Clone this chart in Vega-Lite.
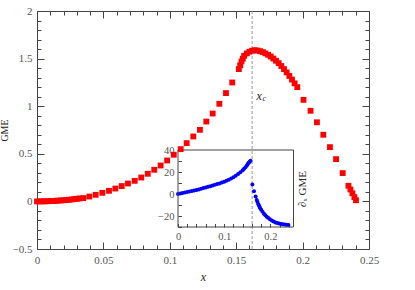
{
  "$schema": "https://vega.github.io/schema/vega-lite/v6.json",
  "width": 332,
  "height": 238,
  "autosize": "none",
  "padding": {"left": 37, "top": 11, "right": 46, "bottom": 41},
  "background": "white",
  "config": {
    "view": {"stroke": null},
    "font": "Liberation Serif",
    "text": {"font": "Liberation Serif"},
    "axis": {
      "labelFont": "Liberation Serif",
      "titleFont": "Liberation Serif",
      "domainColor": "#444",
      "tickColor": "#444",
      "labelColor": "#555",
      "titleColor": "#222",
      "titleFontWeight": "normal",
      "grid": false,
      "labelFontSize": 11,
      "titleFontSize": 11,
      "format": "~r",
      "labelFlush": false,
      "labelOverlap": false,
      "labelBound": false
    }
  },
  "datasets": {
    "gme": [
      {"x": 0, "g": 0}, {"x": 0.002, "g": 0.0001}, {"x": 0.004, "g": 0.0005}, {"x": 0.006, "g": 0.001},
      {"x": 0.008, "g": 0.002}, {"x": 0.01, "g": 0.003}, {"x": 0.012, "g": 0.004}, {"x": 0.014, "g": 0.006},
      {"x": 0.016, "g": 0.008}, {"x": 0.018, "g": 0.01}, {"x": 0.02, "g": 0.012}, {"x": 0.022, "g": 0.015},
      {"x": 0.024, "g": 0.017}, {"x": 0.026, "g": 0.02}, {"x": 0.028, "g": 0.024}, {"x": 0.03, "g": 0.027},
      {"x": 0.032, "g": 0.031},
      {"x": 0.0349, "g": 0.035}, {"x": 0.0394, "g": 0.051}, {"x": 0.0442, "g": 0.069}, {"x": 0.0492, "g": 0.09},
      {"x": 0.0542, "g": 0.111}, {"x": 0.059, "g": 0.135}, {"x": 0.0638, "g": 0.161}, {"x": 0.0685, "g": 0.188},
      {"x": 0.0736, "g": 0.216}, {"x": 0.0785, "g": 0.251}, {"x": 0.0834, "g": 0.29}, {"x": 0.0883, "g": 0.332},
      {"x": 0.0931, "g": 0.377}, {"x": 0.098, "g": 0.43}, {"x": 0.103, "g": 0.49}, {"x": 0.1082, "g": 0.549},
      {"x": 0.1127, "g": 0.612}, {"x": 0.1177, "g": 0.682}, {"x": 0.1227, "g": 0.752}, {"x": 0.1275, "g": 0.839},
      {"x": 0.1323, "g": 0.923}, {"x": 0.1373, "g": 1.025}, {"x": 0.1423, "g": 1.138}, {"x": 0.147, "g": 1.249},
      {"x": 0.152, "g": 1.39}, {"x": 0.153, "g": 1.43}, {"x": 0.154, "g": 1.47}, {"x": 0.155, "g": 1.5},
      {"x": 0.156, "g": 1.53}, {"x": 0.158, "g": 1.555}, {"x": 0.16, "g": 1.572}, {"x": 0.162, "g": 1.583},
      {"x": 0.164, "g": 1.588}, {"x": 0.166, "g": 1.585}, {"x": 0.168, "g": 1.578}, {"x": 0.17, "g": 1.568},
      {"x": 0.172, "g": 1.555}, {"x": 0.174, "g": 1.54}, {"x": 0.176, "g": 1.522}, {"x": 0.178, "g": 1.5},
      {"x": 0.18, "g": 1.477}, {"x": 0.182, "g": 1.452}, {"x": 0.184, "g": 1.422}, {"x": 0.186, "g": 1.39},
      {"x": 0.188, "g": 1.355}, {"x": 0.19, "g": 1.318}, {"x": 0.192, "g": 1.28}, {"x": 0.194, "g": 1.24},
      {"x": 0.196, "g": 1.2},
      {"x": 0.2007, "g": 1.067}, {"x": 0.206, "g": 0.952}, {"x": 0.2108, "g": 0.831}, {"x": 0.2156, "g": 0.7},
      {"x": 0.2206, "g": 0.57}, {"x": 0.2252, "g": 0.444}, {"x": 0.2302, "g": 0.297},
      {"x": 0.2345, "g": 0.164}, {"x": 0.236, "g": 0.125}, {"x": 0.2375, "g": 0.085}, {"x": 0.239, "g": 0.045},
      {"x": 0.2402, "g": 0.012}
    ],
    "deriv": [
      {"x": 0, "d": 0}, {"x": 0.005, "d": 0.4}, {"x": 0.01, "d": 0.9}, {"x": 0.015, "d": 1.3},
      {"x": 0.02, "d": 1.8}, {"x": 0.025, "d": 2.2}, {"x": 0.03, "d": 2.7}, {"x": 0.035, "d": 3.2},
      {"x": 0.04, "d": 3.7}, {"x": 0.045, "d": 4.2}, {"x": 0.05, "d": 4.8}, {"x": 0.055, "d": 5.4},
      {"x": 0.06, "d": 5.9}, {"x": 0.065, "d": 6.5}, {"x": 0.07, "d": 7.1}, {"x": 0.075, "d": 7.7},
      {"x": 0.08, "d": 8.4}, {"x": 0.085, "d": 9.0}, {"x": 0.09, "d": 9.6}, {"x": 0.095, "d": 10.4},
      {"x": 0.1, "d": 11.2}, {"x": 0.105, "d": 12.0}, {"x": 0.11, "d": 13.0}, {"x": 0.115, "d": 14.0},
      {"x": 0.12, "d": 15.2}, {"x": 0.125, "d": 16.6}, {"x": 0.13, "d": 18.1}, {"x": 0.135, "d": 19.8},
      {"x": 0.14, "d": 21.7}, {"x": 0.143, "d": 23.0}, {"x": 0.146, "d": 24.4}, {"x": 0.149, "d": 26.0},
      {"x": 0.151, "d": 27.2}, {"x": 0.153, "d": 28.3}, {"x": 0.155, "d": 29.3}, {"x": 0.157, "d": 30.3},
      {"x": 0.161, "d": 8.7}, {"x": 0.1645, "d": 2.4}, {"x": 0.168, "d": -2.2}, {"x": 0.1705, "d": -5.5},
      {"x": 0.172, "d": -7.3}, {"x": 0.174, "d": -9.3}, {"x": 0.176, "d": -11.2}, {"x": 0.178, "d": -12.9},
      {"x": 0.18, "d": -14.3}, {"x": 0.183, "d": -16.2}, {"x": 0.186, "d": -17.9}, {"x": 0.189, "d": -19.4},
      {"x": 0.192, "d": -20.7}, {"x": 0.195, "d": -21.7}, {"x": 0.199, "d": -23.0}, {"x": 0.203, "d": -24.1},
      {"x": 0.207, "d": -25.0}, {"x": 0.211, "d": -25.8}, {"x": 0.215, "d": -26.4}, {"x": 0.219, "d": -26.9},
      {"x": 0.223, "d": -27.3}, {"x": 0.227, "d": -27.6}, {"x": 0.231, "d": -27.8}, {"x": 0.235, "d": -28.0},
      {"x": 0.239, "d": -28.1}
    ],
    "xc": [{"x": 0.162}],
    "frame": [{"x0": 0, "x1": 0.25, "y0": -30, "y1": 40}],
    "label": [{"lx": 0.1652, "ly": 1.11, "t": "x", "s": "c"}]
  },
  "resolve": {
    "scale": {"x": "independent", "y": "independent"},
    "axis": {"x": "independent", "y": "independent"}
  },
  "layer": [
    {
      "data": {"name": "xc"},
      "mark": {"type": "rule", "color": "#999", "strokeDash": [3, 2], "strokeWidth": 1},
      "encoding": {
        "x": {
          "field": "x", "type": "quantitative",
          "scale": {"domain": [0, 0.25], "nice": false, "zero": false},
          "axis": {
            "orient": "top", "labels": false, "title": null,
            "values": [0,0.01,0.02,0.03,0.04,0.05,0.06,0.07,0.08,0.09,0.1,0.11,0.12,0.13,0.14,0.15,0.16,0.17,0.18,0.19,0.2,0.21,0.22,0.23,0.24,0.25],
            "tickSize": {"condition": {"test": "round(datum.value*100) % 5 == 0", "value": -7}, "value": -4}
          }
        }
      }
    },
    {
      "data": {"name": "deriv"},
      "mark": {"type": "circle", "color": "#0000ff", "size": 16, "opacity": 1},
      "encoding": {
        "x": {
          "field": "x", "type": "quantitative",
          "scale": {"domain": [0, 0.25], "range": [141, 256.5], "nice": false, "zero": false},
          "axis": {
            "orient": "bottom", "offset": -22, "domain": false, "title": null,
            "labelFontSize": 10.5, "labelPadding": 7.5, "tickSize": -3.5,
            "values": [0,0.02,0.04,0.06,0.08,0.1,0.12,0.14,0.16,0.18,0.2,0.22,0.24],
            "labelExpr": "round(datum.value*100) % 10 == 0 ? datum.label : ''"
          }
        },
        "y": {
          "field": "d", "type": "quantitative",
          "scale": {"domain": [-30, 40], "range": [216, 139], "nice": false, "zero": false},
          "axis": {
            "orient": "left", "offset": -141, "domain": false, "title": null,
            "labelFontSize": 10.5, "labelPadding": 7.5, "tickSize": -3.5,
            "values": [-30,-20,-10,0,10,20,30,40],
            "labelExpr": "datum.value % 20 == 0 ? datum.label : ''"
          }
        }
      }
    },
    {
      "data": {"name": "frame"},
      "mark": {"type": "rect", "fillOpacity": 0, "stroke": "#444", "strokeWidth": 1},
      "encoding": {
        "x": {"field": "x0", "type": "quantitative", "scale": {"domain": [0, 0.25], "range": [141, 256.5], "nice": false, "zero": false}, "axis": null},
        "x2": {"field": "x1"},
        "y": {
          "field": "y0", "type": "quantitative",
          "scale": {"domain": [-30, 40], "range": [216, 139], "nice": false, "zero": false},
          "axis": {
            "orient": "right", "offset": -75.5, "domain": false, "ticks": false, "labels": false,
            "title": "∂ₓ GME", "titleAngle": 270, "titlePadding": 14, "titleFontSize": 11
          }
        },
        "y2": {"field": "y1"}
      }
    },
    {
      "data": {"name": "gme"},
      "mark": {"type": "point", "shape": "square", "filled": true, "size": 34, "color": "#ff0000", "opacity": 1},
      "encoding": {
        "x": {
          "field": "x", "type": "quantitative",
          "scale": {"domain": [0, 0.25], "nice": false, "zero": false},
          "axis": {
            "orient": "bottom", "title": "x", "titleFontStyle": "italic", "titleFontSize": 12, "titlePadding": 3,
            "labelPadding": 12,
            "values": [0,0.01,0.02,0.03,0.04,0.05,0.06,0.07,0.08,0.09,0.1,0.11,0.12,0.13,0.14,0.15,0.16,0.17,0.18,0.19,0.2,0.21,0.22,0.23,0.24,0.25],
            "tickSize": {"condition": {"test": "round(datum.value*100) % 5 == 0", "value": -7}, "value": -4},
            "labelExpr": "round(datum.value*100) % 5 == 0 ? datum.label : ''"
          }
        },
        "y": {
          "field": "g", "type": "quantitative",
          "scale": {"domain": [-0.5, 2], "nice": false, "zero": false},
          "axis": {
            "orient": "left", "title": "GME", "titleFontSize": 10,
            "titleX": -29.7, "titleY": 119, "titleAngle": 270, "titleAlign": "center", "titleBaseline": "alphabetic",
            "labelPadding": 12,
            "values": [-0.5,-0.4,-0.3,-0.2,-0.1,0,0.1,0.2,0.3,0.4,0.5,0.6,0.7,0.8,0.9,1,1.1,1.2,1.3,1.4,1.5,1.6,1.7,1.8,1.9,2],
            "tickSize": {"condition": {"test": "round(datum.value*10) % 5 == 0", "value": -7}, "value": -4},
            "labelExpr": "round(datum.value*10) % 5 == 0 ? datum.label : ''"
          }
        }
      }
    },
    {
      "data": {"name": "label"},
      "mark": {"type": "text", "fontStyle": "italic", "fontSize": 12, "align": "left", "baseline": "middle", "color": "#222"},
      "encoding": {
        "x": {"field": "lx", "type": "quantitative", "scale": {"domain": [0, 0.25], "nice": false, "zero": false}, "axis": null},
        "y": {
          "field": "ly", "type": "quantitative",
          "scale": {"domain": [-0.5, 2], "nice": false, "zero": false},
          "axis": {
            "orient": "right", "labels": false, "title": null,
            "values": [-0.5,-0.4,-0.3,-0.2,-0.1,0,0.1,0.2,0.3,0.4,0.5,0.6,0.7,0.8,0.9,1,1.1,1.2,1.3,1.4,1.5,1.6,1.7,1.8,1.9,2],
            "tickSize": {"condition": {"test": "round(datum.value*10) % 5 == 0", "value": -7}, "value": -4}
          }
        },
        "text": {"field": "t"}
      }
    },
    {
      "data": {"name": "label"},
      "mark": {"type": "text", "fontStyle": "italic", "fontSize": 8, "align": "left", "baseline": "middle", "dx": 6, "dy": 3, "color": "#222"},
      "encoding": {
        "x": {"field": "lx", "type": "quantitative", "scale": {"domain": [0, 0.25], "nice": false, "zero": false}, "axis": null},
        "y": {"field": "ly", "type": "quantitative", "scale": {"domain": [-0.5, 2], "nice": false, "zero": false}, "axis": null},
        "text": {"field": "s"}
      }
    }
  ]
}
